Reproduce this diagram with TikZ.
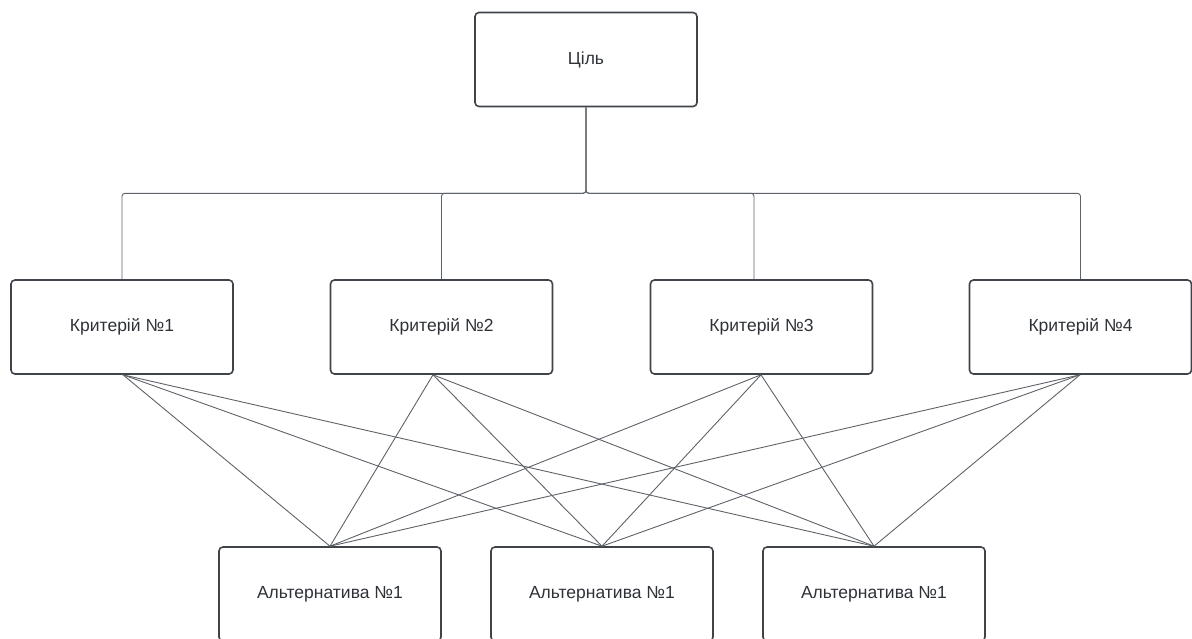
\documentclass[tikz,border=0pt]{standalone}
\usepackage{fontspec}
\setmainfont{Liberation Sans}
\usetikzlibrary{calc}
\definecolor{boxline}{HTML}{3F434A}
\definecolor{conline}{HTML}{5E6269}
\definecolor{txt}{HTML}{2E3238}
\tikzset{
  box/.style={draw=boxline, line width=1.6pt, rounded corners=4pt, minimum width=222pt, minimum height=94pt, inner sep=0pt, text=txt, font=\fontsize{17.5}{21}\selectfont, fill=white},
  con/.style={draw=conline, line width=0.9pt},
}
\begin{document}
\begin{tikzpicture}[x=1pt,y=-1pt]
\useasboundingbox (0,0) rectangle (1192,638);
\clip (0,0) rectangle (1192,638);
\node[box] (goal) at (586,59.5) {Ціль};
\node[box] (c1) at (122,327) {Критерій №1};
\node[box] (c2) at (441.5,327) {Критерій №2};
\node[box] (c3) at (761.5,327) {Критерій №3};
\node[box] (c4) at (1080.5,327) {Критерій №4};
\node[box] (a1) at (330,594) {Альтернатива №1};
\node[box] (a2) at (602,594) {Альтернатива №1};
\node[box] (a3) at (874,594) {Альтернатива №1};
% tree
\coordinate (bus) at ($(goal.south)+(0,86)$);
\coordinate (t1) at (c1.north);
\coordinate (t2) at (c2.north);
\coordinate (t3) at ($(c3.north)+(-7.5,0)$);
\coordinate (t4) at (c4.north);
\foreach \t in {t1,t2,t3,t4}
  \draw[con, rounded corners=3pt] (goal.south) -- (bus) -| (\t);
% criteria bottoms
\coordinate (b1) at ($(c1.south)+(1,0)$);
\coordinate (b2) at ($(c2.south)+(-8.5,0)$);
\coordinate (b3) at ($(c3.south)+(-0.5,0)$);
\coordinate (b4) at ($(c4.south)+(-0.5,0)$);
\foreach \b in {b1,b2,b3,b4}
  \foreach \a in {a1,a2,a3}
    \draw[con] (\b) -- (\a.north);
\end{tikzpicture}
\end{document}
